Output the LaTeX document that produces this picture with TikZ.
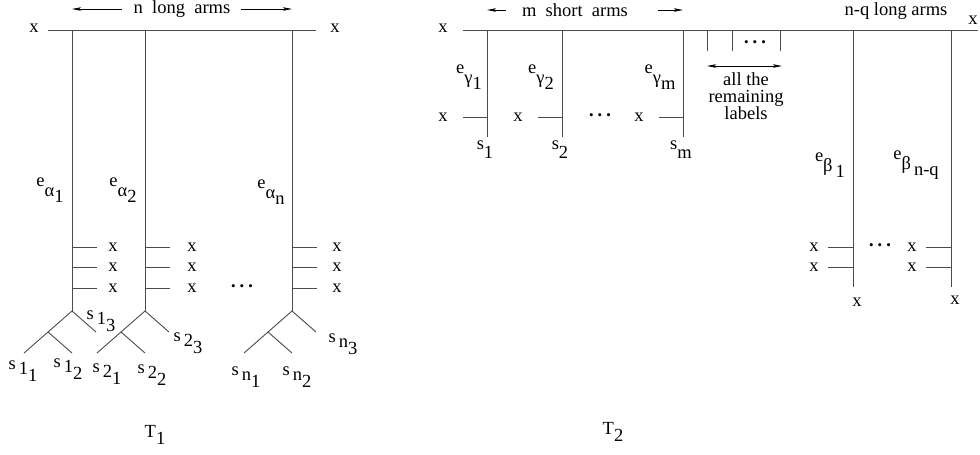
\documentclass[tikz,border=0pt]{standalone}
\usepackage{fontspec}
\setmainfont{Liberation Serif}
\newfontfamily\figfont{Liberation Serif}
\usetikzlibrary{arrows.meta}
% raised e, letter, lowered index
\newcommand{\elab}[2]{\raisebox{.55em}{e}#1\raisebox{-.3em}{#2}}
\newcommand{\slab}[2]{\raisebox{.25em}{s}\,#1\raisebox{-.38em}{#2}}
\newcommand{\sone}[1]{\raisebox{.2em}{s}\raisebox{-.28em}{#1}}
\newcommand{\tdots}{{\fontsize{13}{13}\selectfont\textbullet\kern4pt\textbullet\kern4pt\textbullet}}
\begin{document}
\begin{tikzpicture}[x=1pt,y=-1pt,
    arm/.style={line width=0.9pt, black!70},
    lbl/.style={font=\figfont\fontsize{18.5}{17}\selectfont, inner sep=0pt},
    span/.style={-{Stealth[length=9pt,width=3.5pt,inset=2pt]}, line width=0.7pt}]
    \useasboundingbox (0,0) rectangle (980,455);
    % T1: n long arms
    \begin{scope}
        \coordinate (L0) at (48,30);
        \coordinate (L9) at (316,30);
        \draw[arm] (L0) -- (L9);
        \node[lbl] (xL0) at (34,28) {x};
        \node[lbl] (xL9) at (335,28) {x};
        \node[lbl] (nlong) at (182,9) {n\ \ long\ \ arms};
        \foreach \i/\x/\d in {1/72/41, 2/145/47, n/292/45}{
            \coordinate (A\i) at (\x,30);
            \coordinate (B\i) at (\x,311);
            \draw[arm] (A\i) -- (B\i);
            \foreach \y in {247,267,288}{
                \node[lbl] (x\i\y) at (\x+\d,\y) {x};
                \draw[arm] (A\i |- x\i\y) -- ++(25,0);
            }
            % fork at the foot of the arm
            \coordinate (F\i) at (\x-24,332);
            \draw[arm] (\x-48,353) -- (B\i) -- (\x+24,332);
            \draw[arm] (F\i) -- (\x,353);
        }
        \draw[span] ([xshift=-12pt]nlong.west) -- (A1 |- nlong);
        \draw[span] ([xshift=10pt]nlong.east) -- (An |- nlong);
        \node[lbl] (ea1) at (50,190) {\elab{α}{1}};
        \node[lbl] (ea2) at (123,190) {\elab{α}{2}};
        \node[lbl] (ean) at (271,192) {\elab{α}{n}};
        \node[lbl] (dotsL) at (242,288) {\tdots};
        \foreach \nm/\x/\y/\a/\b in {s11/23/371/1/1, s12/68/369/1/2, s13/101/321/1/3,
                s21/107/374/2/1, s22/152/375/2/2, s23/188/343/2/3,
                sn1/246/377/n/1, sn2/297/377/n/2, sn3/343/344/n/3}{
            \node[lbl] (\nm) at (\x,\y) {\slab{\a}{\b}};
        }
        \node[lbl] (T1) at (155,435) {T\raisebox{-.35em}{1}};
    \end{scope}
    % T2: m short arms, n-q long arms
    \begin{scope}
        \coordinate (R0) at (463,30);
        \coordinate (R9) at (978,30);
        \draw[arm] (R0) -- (R9);
        \node[lbl] (xR0) at (443,28) {x};
        \node[lbl] (xR9) at (973,20) {x};
        \node[lbl] (mshort) at (575,10) {m\ \ short\ \ arms};
        \node[lbl] (nqlong) at (896,11) {n-q long arms};
        \foreach \i/\x/\ex/\sx in {1/487/469/485, 2/562/541/560, m/683/660/681}{
            \coordinate (C\i) at (\x,30);
            \coordinate (D\i) at (\x,137);
            \draw[arm] (C\i) -- (D\i);
            \node[lbl] (xs\i) at (\x-44,117) {x};
            \draw[arm] (D\i |- xs\i) -- ++(-24,0);
            \node[lbl] (eg\i) at (\ex,77) {\elab{γ}{\i}};
            \node[lbl] (s\i) at (\sx,150) {\sone{\i}};
        }
        \draw[span] ([xshift=-16pt]mshort.west) -- (C1 |- mshort);
        \draw[span] ([xshift=30pt]mshort.east) -- (Cm |- mshort);
        \node[lbl] (dotsS) at (600,117) {\tdots};
        % the remaining labels
        \foreach \i/\x in {1/707, 2/732, 3/780}{
            \coordinate (E\i) at (\x,30);
            \coordinate (G\i) at (\x,51);
            \draw[arm] (E\i) -- (G\i);
        }
        \node[lbl] (dotsR) at (755,44) {\tdots};
        \coordinate (W1) at (707,66);
        \coordinate (W3) at (782,66);
        \draw[line width=0.7pt, {Stealth[length=9pt,width=3.5pt,inset=2pt]}-{Stealth[length=9pt,width=3.5pt,inset=2pt]}] (W1) -- (W3);
        \node[lbl, align=center] (rest) at (746,96) {all the\\remaining\\labels};
        % long arms
        \foreach \i/\x/\ex/\ey/\lab/\bx/\by in {1/853/830/165/1/857/302, 2/951/916/165/n-q/955/300}{
            \coordinate (H\i) at (\x,30);
            \coordinate (K\i) at (\x,287);
            \draw[arm] (H\i) -- (K\i);
            \foreach \y in {247,267}{
                \node[lbl] (xl\i\y) at (\x-39,\y) {x};
                \draw[arm] (H\i |- xl\i\y) -- ++(-25,0);
            }
            \node[lbl] (eb\i) at (\ex,\ey) {\elab{β}{\,\lab}};
            \node[lbl] (xb\i) at (\bx,\by) {x};
        }
        \node[lbl] (dotsB) at (880,247) {\tdots};
        \node[lbl] (T2) at (613,432) {T\raisebox{-.35em}{2}};
    \end{scope}
\end{tikzpicture}
\end{document}
